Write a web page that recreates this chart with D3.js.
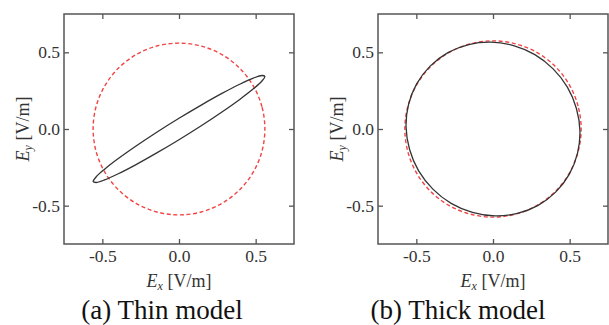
<!DOCTYPE html>
<html>
<head>
<meta charset="utf-8">
<script src="https://cdn.jsdelivr.net/npm/d3@7"></script>
<style>
  html, body { margin: 0; padding: 0; background: #fff; }
  svg { display: block; font-family: "Liberation Serif", "Times New Roman", serif; }
</style>
</head>
<body>
<svg id="chart" width="609" height="325"></svg>
<script>
// axis ticks (both panels, both axes)
const tickValues = [-0.5, 0, 0.5];
const tickLabels = ["-0.5", "0.0", "0.5"];
const captions = ["(a) Thin model", "(b) Thick model"];

// (a) thin model – computed trace (black)
const thinEx = [0.560, 0.541, 0.485, 0.396, 0.280, 0.145, 0.000, -0.145, -0.280, -0.396, -0.485, -0.541,
                -0.560, -0.541, -0.485, -0.396, -0.280, -0.145, 0.000, 0.145, 0.280, 0.396, 0.485, 0.541];
const thinEy = [0.343, 0.349, 0.332, 0.292, 0.232, 0.156, 0.070, -0.021, -0.111, -0.193, -0.262, -0.313,
                -0.343, -0.349, -0.332, -0.292, -0.232, -0.156, -0.070, 0.021, 0.111, 0.193, 0.262, 0.313];
// (a) reference trace (red dashed)
const thinRefEx = [0.560, 0.541, 0.485, 0.396, 0.280, 0.145, 0.000, -0.145, -0.280, -0.396, -0.485, -0.541,
                   -0.560, -0.541, -0.485, -0.396, -0.280, -0.145, 0.000, 0.145, 0.280, 0.396, 0.485, 0.541];
const thinRefEy = [0.000, 0.145, 0.280, 0.396, 0.485, 0.541, 0.560, 0.541, 0.485, 0.396, 0.280, 0.145,
                   0.000, -0.145, -0.280, -0.396, -0.485, -0.541, -0.560, -0.541, -0.485, -0.396, -0.280, -0.145];

// (b) thick model – computed trace (black)
const thickEx = [-0.410, -0.294, -0.159, -0.013, 0.134, 0.273, 0.392, 0.485, 0.544, 0.567, 0.551, 0.498,
                 0.410, 0.294, 0.159, 0.013, -0.134, -0.273, -0.392, -0.485, -0.544, -0.567, -0.551, -0.498];
const thickEy = [0.410, 0.498, 0.551, 0.567, 0.544, 0.485, 0.392, 0.273, 0.134, -0.013, -0.159, -0.294,
                 -0.410, -0.498, -0.551, -0.567, -0.544, -0.485, -0.392, -0.273, -0.134, 0.013, 0.159, 0.294];
// (b) reference trace (red dashed)
const thickRefEx = [0.575, 0.555, 0.498, 0.407, 0.288, 0.149, 0.000, -0.149, -0.288, -0.407, -0.498, -0.555,
                    -0.575, -0.555, -0.498, -0.407, -0.288, -0.149, 0.000, 0.149, 0.288, 0.407, 0.498, 0.555];
const thickRefEy = [0.000, 0.149, 0.288, 0.407, 0.498, 0.555, 0.575, 0.555, 0.498, 0.407, 0.288, 0.149,
                    0.000, -0.149, -0.288, -0.407, -0.498, -0.555, -0.575, -0.555, -0.498, -0.407, -0.288, -0.149];

const svg = d3.select("#chart");
const size = 230;

// capX: caption centre relative to the panel's left edge
const panels = [
  { left: 64, top: 14, capX: 98, caption: captions[0], ex: thinEx, ey: thinEy, rx: thinRefEx, ry: thinRefEy },
  { left: 378, top: 14, capX: 80, caption: captions[1], ex: thickEx, ey: thickEy, rx: thickRefEx, ry: thickRefEy }
];

panels.forEach(p => {
  const g = svg.append("g").attr("transform", `translate(${p.left},${p.top})`);

  const x = d3.scaleLinear().domain([-0.75, 0.75]).range([0, size]);
  const y = d3.scaleLinear().domain([-0.75, 0.75]).range([size, 0]);

  const fmt = d => tickLabels[tickValues.indexOf(d)];

  const axes = [
    g.append("g").call(d3.axisLeft(y).tickValues(tickValues).tickFormat(fmt).tickSize(-5).tickPadding(4)),
    g.append("g").attr("transform", `translate(0,${size})`)
      .call(d3.axisBottom(x).tickValues(tickValues).tickFormat(fmt).tickSize(-5).tickPadding(6)),
    g.append("g").call(d3.axisTop(x).tickValues(tickValues).tickFormat("").tickSize(-5)),
    g.append("g").attr("transform", `translate(${size},0)`)
      .call(d3.axisRight(y).tickValues(tickValues).tickFormat("").tickSize(-5))
  ];
  axes.forEach(a => {
    a.select(".domain").remove();
    a.selectAll(".tick line").attr("stroke", "#555").attr("stroke-width", 1.3);
    a.selectAll("text").attr("fill", "#333").style("font-size", "17.5px")
      .style("font-family", "'Liberation Serif', serif");
  });

  const line = d3.line()
    .x(d => x(d[0]))
    .y(d => y(d[1]))
    .curve(d3.curveCatmullRomClosed.alpha(0.5));

  g.append("path")
    .datum(d3.zip(p.rx, p.ry))
    .attr("d", line)
    .attr("fill", "none")
    .attr("stroke", "#f24444")
    .attr("stroke-width", 1.4)
    .attr("stroke-dasharray", "4,2.6");

  g.append("path")
    .datum(d3.zip(p.ex, p.ey))
    .attr("d", line)
    .attr("fill", "none")
    .attr("stroke", "#333")
    .attr("stroke-width", 1.3);

  g.append("rect")
    .attr("x", 0).attr("y", 0)
    .attr("width", size).attr("height", size)
    .attr("fill", "none")
    .attr("stroke", "#555")
    .attr("stroke-width", 1.5);

  // axis titles
  const xt = g.append("text")
    .attr("x", size / 2).attr("y", 273)
    .attr("text-anchor", "middle")
    .attr("fill", "#333")
    .style("font-size", "18px");
  xt.append("tspan").style("font-style", "italic").text("E");
  xt.append("tspan").attr("dy", 3).style("font-style", "italic").style("font-size", "12px").text("x");
  xt.append("tspan").attr("dy", -3).text(" [V/m]");

  const yt = g.append("text")
    .attr("transform", `translate(-35,${size / 2}) rotate(-90)`)
    .attr("text-anchor", "middle")
    .attr("fill", "#333")
    .style("font-size", "18px");
  yt.append("tspan").style("font-style", "italic").text("E");
  yt.append("tspan").attr("dy", 3).style("font-style", "italic").style("font-size", "12px").text("y");
  yt.append("tspan").attr("dy", -3).text(" [V/m]");

  g.append("text")
    .attr("x", p.capX).attr("y", 305)
    .attr("text-anchor", "middle")
    .attr("fill", "#111")
    .style("font-size", "27px")
    .text(p.caption);
});
</script>
</body>
</html>
